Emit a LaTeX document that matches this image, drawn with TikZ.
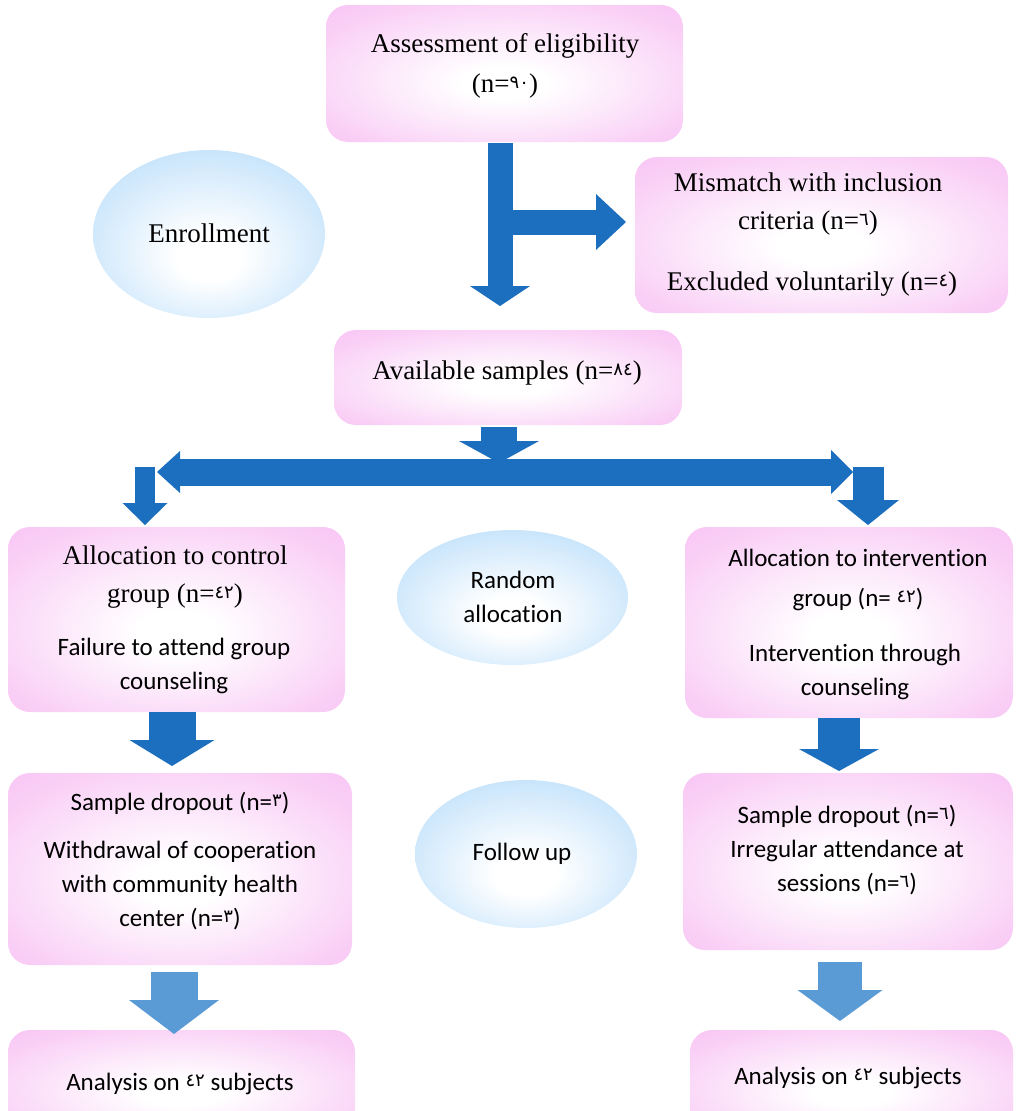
\documentclass[tikz,border=0pt]{standalone}
\usepackage{fontspec}
\setmainfont{Liberation Serif}
\newfontfamily\carl[Ligatures=NoCommon]{Carlito}
\newfontfamily\arabfont{DejaVu Sans}
\usetikzlibrary{arrows.meta,shapes.geometric,calc}
\definecolor{boxpink}{RGB}{247,186,242}
\definecolor{ellblue}{RGB}{182,220,250}
\definecolor{arrblue}{RGB}{28,110,190}
\definecolor{arrlight}{RGB}{91,155,213}
\pgfdeclareradialshading{boxshade}{\pgfpoint{0bp}{-4bp}}{color(0bp)=(white); color(6bp)=(white); color(30bp)=(boxpink!70!white); color(44bp)=(boxpink); color(50bp)=(boxpink)}
\pgfdeclareradialshading{ellshade}{\pgfpoint{0bp}{-8bp}}{color(0bp)=(white); color(7bp)=(white); color(36bp)=(ellblue); color(50bp)=(ellblue)}
\newcommand\ad[1]{{\arabfont\fontsize{18}{18}\selectfont\raisebox{4pt}{#1}}}
\tikzset{
  pbox/.style={shading=boxshade, rounded corners=22pt, inner sep=0pt},
  ell/.style={ellipse, shading=ellshade, inner sep=0pt},
  serif/.style={align=center, font=\fontsize{27}{38}\selectfont, inner sep=0pt},
  sans/.style={align=center, font=\carl\fontsize{25}{34}\selectfont, inner sep=0pt},
  barrow/.style n args={4}{draw=#4, line width=#1, -{Triangle[length=#2, width=#3, line width=0pt]}},
}
\begin{document}
\begin{tikzpicture}[x=1pt,y=-1pt]
\useasboundingbox (0,0) rectangle (1021,1111);
\clip (0,0) rectangle (1021,1111);
% boxes
\node[pbox, minimum width=357pt, minimum height=137pt] (b1) at (504.5,73.5) {};
\node[pbox, minimum width=373pt, minimum height=156pt] (b2) at (821.5,235) {};
\node[pbox, minimum width=348pt, minimum height=95pt] (b3) at (508,377.5) {};
\node[pbox, minimum width=337pt, minimum height=185pt] (ctrl) at (176.5,619.5) {};
\node[pbox, minimum width=328pt, minimum height=191pt] (intv) at (849,622.5) {};
\node[pbox, minimum width=344pt, minimum height=192pt] (dropL) at (180,869) {};
\node[pbox, minimum width=330pt, minimum height=177pt] (dropR) at (848,861.5) {};
\node[pbox, minimum width=347pt, minimum height=110pt] (anL) at (181.5,1085) {};
\node[pbox, minimum width=323pt, minimum height=110pt] (anR) at (851.5,1085) {};
% ellipses
\node[ell, minimum width=232pt, minimum height=168pt] (enr) at (209,234) {};
\node[ell, minimum width=231pt, minimum height=135pt] (rand) at (512.5,597.5) {};
\node[ell, minimum width=222pt, minimum height=148pt] (fol) at (526,854) {};
% texts
\node[serif, font=\fontsize{27}{40}\selectfont] (t1) at (505,66) {Assessment of eligibility\\(n=\ad{٩٠})};
\node[serif] (t2a) at (808,204) {Mismatch with inclusion\\criteria (n=\ad{٦})};
\node[serif] (t2b) at (812,284) {Excluded voluntarily (n=\ad{٤})};
\node[serif] (t3) at (507,373) {Available samples (n=\ad{٨٤})};
\node[serif] (t4) at (209,233) {Enrollment};
\node[serif] (t5a) at (175,577) {Allocation to control\\group (n=\ad{٤٢})};
\node[sans] (t5b) at (174,666) {Failure to attend group\\counseling};
\node[sans] (t6) at (513,597) {Random\\allocation};
\node[sans, font=\carl\fontsize{25}{40}\selectfont] (t7a) at (858,580) {Allocation to intervention\\group (n= \ad{٤٢})};
\node[sans] (t7b) at (855,672) {Intervention through\\counseling};
\node[sans] (t8a) at (180,803) {Sample dropout (n=\ad{٣})};
\node[sans] (t8b) at (180,886) {Withdrawal of cooperation\\with community health\\center (n=\ad{٣})};
\node[sans] (t9) at (522,854) {Follow up};
\node[sans] (t10) at (847,850) {Sample dropout (n=\ad{٦})\\Irregular attendance at\\sessions (n=\ad{٦})};
\node[sans] (t11) at (180,1084) {Analysis on \ad{٤٢} subjects};
\node[sans] (t12) at (848,1078) {Analysis on \ad{٤٢} subjects};
% coordinates
\coordinate (v1) at (500,143);
\coordinate (v1e) at (500,306);
\coordinate (br) at (511,222);
\coordinate (bre) at (626,222);
\coordinate (s1) at (499,427);
\coordinate (s1e) at (499,463);
\coordinate (dl) at (157,472);
\coordinate (dr) at (853,472);
\coordinate (l1) at (145,467);
\coordinate (l1e) at (145,525);
\coordinate (r1) at (868,467);
\coordinate (r1e) at (868,525);
\coordinate (l2) at (172,712);
\coordinate (l2e) at (172,766);
\coordinate (r2) at (839,718);
\coordinate (r2e) at (839,771);
\coordinate (l3) at (174,972);
\coordinate (l3e) at (174,1034);
\coordinate (r3) at (840,962);
\coordinate (r3e) at (840,1021);
% arrows
\draw[barrow={25pt}{20pt}{60pt}{arrblue}] (v1) -- (v1e);
\draw[barrow={25pt}{30pt}{56pt}{arrblue}] (br) -- (bre);
\draw[barrow={36pt}{22pt}{80pt}{arrblue}] (s1) -- (s1e);
\draw[draw=arrblue, line width=27pt, {Triangle[length=23pt, width=42pt, line width=0pt]}-{Triangle[length=22pt, width=44pt, line width=0pt]}] (dl) -- (dr);
\draw[barrow={20pt}{22pt}{45pt}{arrblue}] (l1) -- (l1e);
\draw[barrow={31pt}{25pt}{62pt}{arrblue}] (r1) -- (r1e);
\draw[barrow={47pt}{26pt}{85pt}{arrblue}] (l2) -- (l2e);
\draw[barrow={42pt}{22pt}{80pt}{arrblue}] (r2) -- (r2e);
\draw[barrow={47pt}{34pt}{90pt}{arrlight}] (l3) -- (l3e);
\draw[barrow={44pt}{31pt}{85pt}{arrlight}] (r3) -- (r3e);
\end{tikzpicture}
\end{document}
